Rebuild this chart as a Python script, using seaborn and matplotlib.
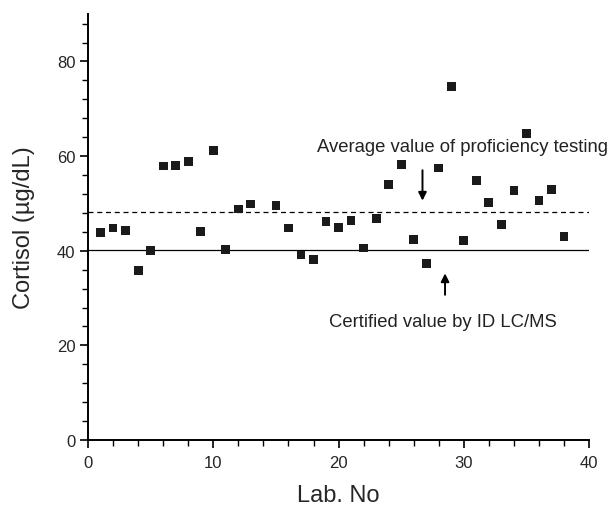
import numpy as np
import pandas as pd
import matplotlib
matplotlib.use("Agg")
import matplotlib.pyplot as plt
import seaborn as sns
from matplotlib.ticker import MultipleLocator

# lab numbers and reported cortisol values
lab_no = [1, 2, 3, 4, 5, 6, 7, 8, 9, 10, 11, 12, 13, 15, 16, 17, 18, 19, 20,
          21, 22, 23, 24, 25, 26, 27, 28, 29, 30, 31, 32, 33, 34, 35, 36, 37, 38]
cortisol = [43.8, 44.8, 44.3, 35.9, 40.1, 57.9, 58.0, 58.8, 44.0, 61.2, 40.2,
            48.8, 49.9, 49.6, 44.8, 39.1, 38.2, 46.1, 44.9, 46.4, 40.6, 46.8,
            54.0, 58.3, 42.3, 37.3, 57.5, 74.7, 42.2, 54.9, 50.2, 45.5, 52.7,
            64.8, 50.6, 52.9, 43.0]
avg_pt = 48.2
certified = 40.1

df = pd.DataFrame({"lab": lab_no, "cortisol": cortisol})

sns.set_style("ticks")
plt.rcParams['font.family'] = ['Liberation Sans', 'DejaVu Sans']

fig = plt.figure(figsize=(6.13, 5.06), dpi=100)
ax = fig.add_axes([0.1436, 0.1285, 0.8174, 0.8415])

sns.scatterplot(data=df, x="lab", y="cortisol", marker="s", s=40,
                color="#1a1a1a", edgecolor="none", ax=ax, zorder=3)

ax.axhline(avg_pt, color="black", lw=0.9, ls=(0, (4, 3)))
ax.axhline(certified, color="black", lw=0.9)

ax.annotate("", xy=(26.7, 50.0), xytext=(26.7, 57.6),
            arrowprops=dict(arrowstyle="-|>", color="black", lw=1.4, mutation_scale=12))
ax.annotate("", xy=(28.5, 35.8), xytext=(28.5, 30.1),
            arrowprops=dict(arrowstyle="-|>", color="black", lw=1.4, mutation_scale=12))
ax.text(29.9, 62.1, "Average value of proficiency testing", ha="center", va="center",
        fontsize=13.3, color="#222222")
ax.text(28.3, 25.0, "Certified value by ID LC/MS", ha="center", va="center",
        fontsize=13.3, color="#222222")

ax.set_xlim(0, 40)
ax.set_ylim(0, 90)
ax.xaxis.set_major_locator(MultipleLocator(10))
ax.xaxis.set_minor_locator(MultipleLocator(2))
ax.yaxis.set_major_locator(MultipleLocator(20))
ax.yaxis.set_minor_locator(MultipleLocator(4))
ax.set_yticks([0, 20, 40, 60, 80])
ax.tick_params(which="major", length=6, width=1.2, labelsize=12, color="black", pad=3)
ax.tick_params(axis="x", which="major", pad=5)
ax.tick_params(which="minor", length=4, width=1.0, color="black")
for sp in ["left", "bottom"]:
    ax.spines[sp].set_linewidth(1.4)
    ax.spines[sp].set_color("black")
sns.despine(ax=ax)

ax.set_xlabel("Lab. No", fontsize=17, labelpad=10)
ax.set_ylabel("Cortisol (\u00b5g/dL)", fontsize=17, labelpad=16)

fig.savefig("out.png", dpi=100)
